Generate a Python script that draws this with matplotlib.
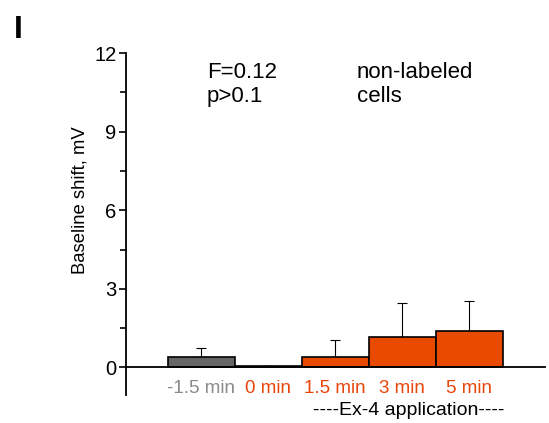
import numpy as np
import matplotlib.pyplot as plt
from matplotlib.ticker import MultipleLocator

plt.rcParams['font.family'] = ['Liberation Sans', 'DejaVu Sans']

# data
categories = ['-1.5 min', '0 min', '1.5 min', '3 min', '5 min']
means = [0.40, 0.07, 0.40, 1.17, 1.41]
sems = [0.36, 0.0, 0.65, 1.29, 1.14]
bar_colors = ['#666666', '#E84A00', '#E84A00', '#E84A00', '#E84A00']
label_colors = ['#8a8a8a', '#E8450A', '#E8450A', '#E8450A', '#E8450A']

fig = plt.figure(figsize=(5.49, 4.23), dpi=100)
ax = fig.add_axes([0.2295, 0.0662, 0.7632, 0.8085])

x = np.arange(len(categories))
ax.bar(x, means, width=1.0, color=bar_colors, edgecolor='black', linewidth=1.2, zorder=2)
ax.errorbar(x, means, yerr=[np.zeros(len(sems)), sems], fmt='none',
            ecolor='black', elinewidth=0.8, capsize=3.5, capthick=0.8, zorder=1)

ax.set_xlim(-1.12, 5.13)
ax.set_ylim(-1.05, 12)

for s in ['top', 'right']:
    ax.spines[s].set_visible(False)
ax.spines['bottom'].set_position(('data', 0))
ax.spines['left'].set_linewidth(1.3)
ax.spines['bottom'].set_linewidth(1.3)

ax.set_yticks([0, 3, 6, 9, 12])
ax.yaxis.set_minor_locator(MultipleLocator(1.5))
ax.tick_params(axis='y', which='major', length=5, width=1.2, labelsize=14.5, pad=2)
ax.tick_params(axis='y', which='minor', length=4, width=1.2)

ax.set_xticks(x)
ax.set_xticklabels(categories)
ax.tick_params(axis='x', length=0, labelsize=13.5, pad=9)
for lab, c in zip(ax.get_xticklabels(), label_colors):
    lab.set_color(c)

ax.set_ylabel('Baseline shift, mV', fontsize=13.3)
ax.yaxis.set_label_coords(-0.09, 0.57)

ax.text(0.193, 0.975, 'F=0.12\np>0.1', transform=ax.transAxes, fontsize=16,
        ha='left', va='top', linespacing=1.22)
ax.text(0.551, 0.975, 'non-labeled\ncells', transform=ax.transAxes, fontsize=16,
        ha='left', va='top', linespacing=1.22)

fig.text(0.744, 0.03, '----Ex-4 application----', fontsize=14, ha='center', va='center')
fig.text(0.025, 0.93, 'I', fontsize=23, fontweight='bold', ha='left', va='center')

fig.savefig('out.png', dpi=100)
